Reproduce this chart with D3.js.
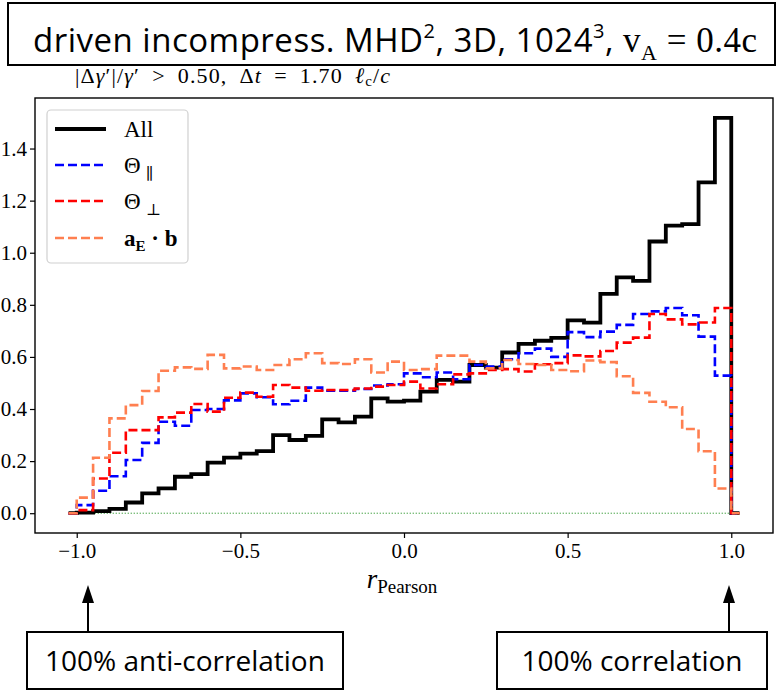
<!DOCTYPE html>
<html>
<head>
<meta charset="utf-8">
<script src="https://cdn.jsdelivr.net/npm/d3@7"></script>
<style>
  html, body { margin: 0; padding: 0; background: #fff; }
  svg { display: block; }
</style>
</head>
<body>
<svg id="chart" width="781" height="691"></svg>
<script>
// ---------------- data ----------------
const binStart = -1.0;
const binWidth = 0.05;
const allValues = [0.002, 0.008, 0.017, 0.041, 0.076, 0.095, 0.14, 0.15, 0.194, 0.213,
  0.229, 0.238, 0.30, 0.281, 0.297, 0.36, 0.349, 0.371, 0.441, 0.428,
  0.432, 0.467, 0.512, 0.505, 0.569, 0.559, 0.617, 0.65, 0.662, 0.673,
  0.74, 0.732, 0.842, 0.905, 0.892, 1.043, 1.104, 1.11, 1.27, 1.518];
const thetaParValues = [0.031, 0.086, 0.142, 0.204, 0.27, 0.351, 0.336, 0.396, 0.40, 0.433,
  0.46, 0.445, 0.418, 0.432, 0.482, 0.47, 0.47, 0.477, 0.49, 0.495,
  0.537, 0.522, 0.54, 0.514, 0.569, 0.563, 0.591, 0.614, 0.632, 0.60,
  0.695, 0.676, 0.697, 0.723, 0.765, 0.775, 0.788, 0.76, 0.678, 0.528];
const thetaPerpValues = [0.012, 0.133, 0.232, 0.319, 0.319, 0.368, 0.386, 0.419, 0.39, 0.443,
  0.463, 0.447, 0.492, 0.482, 0.47, 0.473, 0.473, 0.479, 0.486, 0.492,
  0.505, 0.479, 0.495, 0.533, 0.537, 0.55, 0.553, 0.544, 0.572, 0.576,
  0.606, 0.602, 0.623, 0.655, 0.674, 0.765, 0.744, 0.725, 0.732, 0.788];
const aebValues = [0.06, 0.213, 0.364, 0.415, 0.469, 0.547, 0.56, 0.554, 0.608, 0.556,
  0.563, 0.55, 0.569, 0.591, 0.614, 0.576, 0.573, 0.591, 0.54, 0.582,
  0.55, 0.553, 0.605, 0.605, 0.582, 0.556, 0.588, 0.573, 0.569, 0.55,
  0.545, 0.586, 0.58, 0.526, 0.462, 0.428, 0.407, 0.323, 0.238, 0.095];
const xTicks = [-1.0, -0.5, 0.0, 0.5, 1.0];
const yTicks = [0.0, 0.2, 0.4, 0.6, 0.8, 1.0, 1.2, 1.4];

const series = [
  {key: "all",  values: allValues,       color: "#000000", width: 3.8, dash: null},
  {key: "par",  values: thetaParValues,  color: "#0000ff", width: 2.6, dash: "9,4"},
  {key: "perp", values: thetaPerpValues, color: "#ff0000", width: 2.6, dash: "9,4"},
  {key: "aeb",  values: aebValues,       color: "#ff7f50", width: 2.6, dash: "9,4"}
];

// ---------------- layout ----------------
const svg = d3.select("#chart");
const frame = {left: 35, right: 773, top: 98, bottom: 533};
const serif = "'Liberation Serif', 'DejaVu Serif', serif";
const sans = "'Open Sans', 'Noto Sans', sans-serif";

const x = d3.scaleLinear().domain([-1.1275, 1.1275]).range([frame.left, frame.right]);
const y = d3.scaleLinear().domain([-0.076, 1.594]).range([frame.bottom, frame.top]);

// subtitle (drawn first so the title box can overlap its top)
const sp = "\u2002";
const sub = svg.append("text").attr("x", 75).attr("y", 83)
  .attr("font-family", serif).attr("font-size", 22).attr("fill", "#000")
  .attr("textLength", 315).attr("lengthAdjust", "spacing");
sub.append("tspan").text("|Δ");
sub.append("tspan").attr("font-style", "italic").text("γ");
sub.append("tspan").text("′|/");
sub.append("tspan").attr("font-style", "italic").text("γ");
sub.append("tspan").text("′" + sp + ">" + sp + "0.50," + sp + "Δ");
sub.append("tspan").attr("font-style", "italic").text("t");
sub.append("tspan").text(sp + "=" + sp + "1.70" + sp);
sub.append("tspan").attr("font-style", "italic").text("ℓ");
sub.append("tspan").attr("font-size", 15).attr("dy", 3).text("c");
sub.append("tspan").attr("dy", -3).text("/");
sub.append("tspan").attr("font-style", "italic").text("c");

// ---------------- title box ----------------
svg.append("rect").attr("x", 8).attr("y", 3).attr("width", 767).attr("height", 62)
  .attr("fill", "#fff").attr("stroke", "#000").attr("stroke-width", 2);
const title = svg.append("text").attr("x", 33).attr("y", 52)
  .attr("font-family", sans).attr("font-size", 33).attr("fill", "#000")
  .attr("textLength", 724).attr("lengthAdjust", "spacing");
title.append("tspan").text("driven incompress. MHD");
title.append("tspan").attr("font-size", 20).attr("dy", -14).text("2");
title.append("tspan").attr("dy", 14).text(", 3D, 1024");
title.append("tspan").attr("font-size", 20).attr("dy", -14).text("3");
title.append("tspan").attr("dy", 14).text(", ");
title.append("tspan").attr("font-family", serif).attr("font-size", 35).text("v");
title.append("tspan").attr("font-family", serif).attr("font-size", 22).attr("dy", 8).text("A");
title.append("tspan").attr("font-family", serif).attr("font-size", 35).attr("dy", -8).text(" = 0.4c");

// ---------------- axes ----------------
const gx = svg.append("g").attr("transform", `translate(0,${frame.bottom})`)
  .call(d3.axisBottom(x).tickValues(xTicks).tickSize(5).tickPadding(5)
    .tickFormat(d => d3.format(".1f")(d).replace("-", "−")));
const gy = svg.append("g").attr("transform", `translate(${frame.left},0)`)
  .call(d3.axisLeft(y).tickValues(yTicks).tickSize(5).tickPadding(3)
    .tickFormat(d3.format(".1f")));
[gx, gy].forEach(g => {
  g.select(".domain").remove();
  g.selectAll(".tick line").attr("stroke", "#000").attr("stroke-width", 1.2);
  g.selectAll(".tick text").attr("font-family", serif).attr("font-size", 21).attr("fill", "#000");
});

// zero reference line (green dotted)
svg.append("line")
  .attr("x1", x(-1.0)).attr("x2", x(1.0)).attr("y1", y(0)).attr("y2", y(0))
  .attr("stroke", "#008000").attr("stroke-width", 1).attr("stroke-dasharray", "1,2");

// ---------------- step histograms ----------------
function stepPoints(vals) {
  const pts = [[binStart - binWidth / 2, 0]];
  vals.forEach((v, i) => pts.push([binStart + i * binWidth, v]));
  pts.push([binStart + vals.length * binWidth, 0]);
  pts.push([binStart + vals.length * binWidth + binWidth / 2, 0]);
  return pts;
}
const line = d3.line().x(d => x(d[0])).y(d => y(d[1])).curve(d3.curveStepAfter);
series.forEach(s => {
  svg.append("path").datum(stepPoints(s.values))
    .attr("d", line).attr("fill", "none")
    .attr("stroke", s.color).attr("stroke-width", s.width)
    .attr("stroke-dasharray", s.dash)
    .attr("stroke-linejoin", "miter");
});

// frame
svg.append("rect").attr("x", frame.left).attr("y", frame.top)
  .attr("width", frame.right - frame.left).attr("height", frame.bottom - frame.top)
  .attr("fill", "none").attr("stroke", "#000").attr("stroke-width", 1.4);

// x label
const xl = svg.append("text").attr("x", 402).attr("y", 588).attr("text-anchor", "middle")
  .attr("font-family", serif).attr("fill", "#000");
xl.append("tspan").attr("font-style", "italic").attr("font-size", 27).text("r");
xl.append("tspan").attr("font-size", 19).attr("dy", 5).text("Pearson");

// ---------------- legend ----------------
const lg = svg.append("g");
lg.append("rect").attr("x", 47).attr("y", 110).attr("width", 141).attr("height", 153)
  .attr("rx", 4).attr("fill", "#fff").attr("fill-opacity", 0.8)
  .attr("stroke", "#d0d0d0").attr("stroke-width", 1.2);
const rows = [129, 165, 201, 238];
series.forEach((s, i) => {
  lg.append("line").attr("x1", 55).attr("x2", 106).attr("y1", rows[i]).attr("y2", rows[i])
    .attr("stroke", s.color).attr("stroke-width", s.width).attr("stroke-dasharray", s.dash);
});
const lt = (i) => lg.append("text").attr("x", 124).attr("y", rows[i] + 8)
  .attr("font-family", serif).attr("font-size", 23).attr("fill", "#000");
lt(0).text("All");
const t1 = lt(1); t1.append("tspan").text("Θ"); t1.append("tspan").attr("dx", 5).attr("dy", 6).attr("font-size", 16).text("∥");
const t2 = lt(2); t2.append("tspan").text("Θ"); t2.append("tspan").attr("dx", 5).attr("dy", 6).attr("font-size", 16).text("⊥");
const t3 = lt(3).attr("font-weight", "bold");
t3.append("tspan").text("a"); t3.append("tspan").attr("font-size", 15).attr("dy", 5).text("E");
t3.append("tspan").attr("dy", -5).text(" · b");

// ---------------- annotations ----------------
const notes = [
  {label: "100% anti-correlation", box: [27, 632, 316, 57], arrowX: 88},
  {label: "100% correlation", box: [497, 632, 270, 57], arrowX: 729}
];
notes.forEach(n => {
  svg.append("line").attr("x1", n.arrowX).attr("x2", n.arrowX).attr("y1", 602).attr("y2", n.box[1])
    .attr("stroke", "#000").attr("stroke-width", 2);
  svg.append("path")
    .attr("d", `M${n.arrowX},585 L${n.arrowX - 6},603 L${n.arrowX + 6},603 Z`)
    .attr("fill", "#000");
  svg.append("rect").attr("x", n.box[0]).attr("y", n.box[1]).attr("width", n.box[2]).attr("height", n.box[3])
    .attr("fill", "#fff").attr("stroke", "#000").attr("stroke-width", 2);
  svg.append("text").attr("x", n.box[0] + n.box[2] / 2).attr("y", n.box[1] + 39)
    .attr("text-anchor", "middle").attr("font-family", sans).attr("font-size", 28)
    .attr("fill", "#000").text(n.label);
});
</script>
</body>
</html>
